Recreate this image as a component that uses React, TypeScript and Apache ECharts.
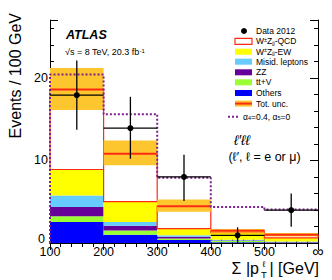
import React, { useEffect, useRef } from "react";
import * as echarts from "echarts";

// ---- data ----
const binEdges = [100, 200, 300, 400, 500, 600];
const xTickLabels = ["100", "200", "300", "400", "500", "∞"];
const yTickLabels = [0, 10, 20];
const others = [2.55, 1.0, 0.35, 0.1, 0.05];
const ttV = [0.7, 0.5, 0.2, 0.15, 0.05];
const zz = [1.1, 0.6, 0.2, 0.05, 0.02];
const misid = [1.4, 0.45, 0.2, 0.1, 0.05];
const wzEW = [3.15, 2.45, 0.8, 0.85, 0.45];
const wzQCD = [9.7, 5.8, 2.71, 0.24, 0.38];
const uncLow = [16.1, 9.4, 3.77, 1.25, 0.8];
const uncHigh = [21.2, 12.4, 5.26, 1.7, 1.2];
const data2012 = [17.9, 13.9, 8.0, 0.93, 3.97];
const dataErrLow = [13.7, 10.2, 5.1, 0, 1.96];
const dataErrHigh = [22.1, 17.7, 10.7, 1.9, 6.0];
const aqgc = [20.4, 15.6, 7.9, 4.37, 4.06];

const FONT = "'Liberation Sans', Arial, Helvetica, sans-serif";
const RED = "#ff2a12";
const BAND = "#fec62e";
const PURPLE_DOT = "#7d1f8c";

const layers = [
  { name: "Others", vals: others, fill: "#0000ff", stroke: null as string | null },
  { name: "tt+V", vals: ttV, fill: "#99ff33", stroke: null },
  { name: "ZZ", vals: zz, fill: "#660099", stroke: null },
  { name: "Misid. leptons", vals: misid, fill: "#66ccff", stroke: null },
  { name: "W±Zjj-EW", vals: wzEW, fill: "#ffff00", stroke: null },
  { name: "W±Zjj-QCD", vals: wzQCD, fill: "#ffffff", stroke: RED },
];

function rectRender(fill: string, stroke: string | null, lw: number) {
  return (params: any, api: any) => {
    const p0 = api.coord([api.value(0), api.value(3)]);
    const p1 = api.coord([api.value(1), api.value(2)]);
    return {
      type: "rect",
      shape: { x: p0[0], y: p0[1], width: p1[0] - p0[0], height: p1[1] - p0[1] },
      style: stroke ? { fill, stroke, lineWidth: lw } : { fill, lineWidth: 0 },
    };
  };
}

function buildSeries() {
  const series: any[] = [];
  const cum = binEdges.slice(0, -1).map(() => 0);
  layers.forEach((l, li) => {
    const d = l.vals.map((v, i) => {
      const b = cum[i];
      cum[i] += v;
      return [binEdges[i], binEdges[i + 1], b, cum[i]];
    });
    series.push({
      type: "custom",
      name: l.name,
      data: d,
      encode: { x: [0, 1], y: [2, 3] },
      renderItem: rectRender(l.fill, l.stroke, 1.2),
      z: 2 + li * 0.01,
      silent: true,
    });
  });
  const totals = cum.slice();
  series.push({
    type: "custom",
    name: "Tot. unc.",
    data: uncLow.map((lo, i) => [binEdges[i], binEdges[i + 1], lo, uncHigh[i]]),
    encode: { x: [0, 1], y: [2, 3] },
    renderItem: rectRender(BAND, null, 0),
    z: 3,
  });
  series.push({
    type: "custom",
    name: "total line",
    data: totals.map((t, i) => [binEdges[i], binEdges[i + 1], t]),
    encode: { x: [0, 1], y: 2 },
    renderItem: (params: any, api: any) => {
      const a = api.coord([api.value(0), api.value(2)]);
      const b = api.coord([api.value(1), api.value(2)]);
      return {
        type: "line",
        shape: { x1: a[0], y1: a[1], x2: b[0], y2: b[1] },
        style: { stroke: RED, lineWidth: 2 },
      };
    },
    z: 4,
  });
  const stepPts: number[][] = [[binEdges[0], 0]];
  aqgc.forEach((v, i) => {
    stepPts.push([binEdges[i], v]);
    stepPts.push([binEdges[i + 1], v]);
  });
  series.push({
    type: "line",
    name: "aQGC",
    data: stepPts,
    showSymbol: false,
    symbol: "none",
    lineStyle: { color: PURPLE_DOT, width: 2, type: [2, 2] },
    z: 5,
  });
  series.push({
    type: "custom",
    name: "Data 2012",
    data: data2012.map((v, i) => [binEdges[i], binEdges[i + 1], v, dataErrLow[i], dataErrHigh[i]]),
    encode: { x: [0, 1], y: [2, 3, 4] },
    renderItem: (params: any, api: any) => {
      const x0 = api.value(0), x1 = api.value(1), v = api.value(2);
      const lo = api.value(3), hi = api.value(4);
      const xc = (x0 + x1) / 2;
      const pL = api.coord([x0, v]);
      const pR = api.coord([x1, v]);
      const pT = api.coord([xc, hi]);
      const pB = api.coord([xc, lo]);
      const pM = api.coord([xc, v]);
      return {
        type: "group",
        children: [
          { type: "line", shape: { x1: pL[0], y1: pL[1], x2: pR[0], y2: pR[1] }, style: { stroke: "#000", lineWidth: 1.3 } },
          { type: "line", shape: { x1: pT[0], y1: pT[1], x2: pB[0], y2: pB[1] }, style: { stroke: "#000", lineWidth: 1.3 } },
          { type: "circle", shape: { cx: pM[0], cy: pM[1], r: 3 }, style: { fill: "#000" } },
        ],
      };
    },
    z: 10,
  });
  return series;
}

const tickLineStyle = { color: "#000", width: 1 };

function xAxisDef(position: "bottom" | "top", labels: boolean) {
  return {
    type: "value",
    position,
    min: binEdges[0],
    max: binEdges[binEdges.length - 1],
    interval: 100,
    axisLine: { show: true, lineStyle: { color: "#000", width: 1 } },
    axisTick: { show: true, inside: true, length: 7, lineStyle: tickLineStyle },
    minorTick: { show: true, splitNumber: 5, length: 4, lineStyle: tickLineStyle },
    splitLine: { show: false },
    axisLabel: labels
      ? {
          show: true,
          margin: 3,
          color: "#000",
          fontFamily: FONT,
          fontSize: 12.5,
          lineHeight: 11,
          showMinLabel: true,
          showMaxLabel: true,
          formatter: (v: number) => {
            const idx = binEdges.indexOf(v);
            const t = idx >= 0 ? xTickLabels[idx] : "";
            return t === "∞" ? "{inf|∞}" : t;
          },
          rich: { inf: { fontSize: 16, fontFamily: FONT, color: "#000", lineHeight: 11 } },
        }
      : { show: false },
  };
}

function yAxisDef(position: "left" | "right", major: boolean, labels: boolean) {
  return {
    type: "value",
    position,
    min: 0,
    max: 27,
    interval: major ? 10 : 2,
    axisLine: { show: !major, lineStyle: { color: "#000", width: 1 } },
    axisTick: { show: true, inside: true, length: major ? 8 : 4, lineStyle: tickLineStyle },
    splitLine: { show: false },
    axisLabel: labels
      ? {
          show: true,
          margin: 2,
          color: "#000",
          fontFamily: FONT,
          fontSize: 12.5,
          showMaxLabel: false,
          formatter: (v: number) => {
            if (yTickLabels.indexOf(v) < 0) return "";
            return v === 0 ? "{zero|0}" : String(v);
          },
          rich: { zero: { fontSize: 12.5, fontFamily: FONT, color: "#000", padding: [0, 3, 8, 0] } },
        }
      : { show: false },
  };
}

const legendRows = [
  { y: 31, kind: "dot", text: "Data 2012" },
  { y: 41.3, kind: "hollow", text: "W{sup|±}Z{sub|jj}-QCD" },
  { y: 51.7, kind: "fill", color: "#ffff00", text: "W{sup|±}Z{sub|jj}-EW" },
  { y: 61.7, kind: "fill", color: "#66ccff", text: "Misid. leptons" },
  { y: 72.3, kind: "fill", color: "#660099", text: "ZZ" },
  { y: 82.3, kind: "fill", color: "#99ff33", text: "tt+V" },
  { y: 93, kind: "fill", color: "#0000ff", text: "Others" },
  { y: 103.6, kind: "unc", text: "Tot. unc." },
];

const richSmall = {
  sup: { fontSize: 5.5, fontFamily: FONT, fill: "#000", verticalAlign: "top", lineHeight: 4 },
  sub: { fontSize: 5.5, fontFamily: FONT, fill: "#000", verticalAlign: "bottom", lineHeight: 4 },
};

function buildGraphics() {
  const g: any[] = [];
  const bx = 235, bw = 17, bh = 6, tx = 256;
  legendRows.forEach((r: any) => {
    if (r.kind === "dot") {
      g.push({ type: "circle", shape: { cx: 244, cy: r.y, r: 3 }, style: { fill: "#000" } });
    } else if (r.kind === "hollow") {
      g.push({ type: "rect", shape: { x: bx, y: r.y - bh / 2, width: bw, height: bh }, style: { fill: "#fff", stroke: RED, lineWidth: 1.2 } });
    } else if (r.kind === "fill") {
      g.push({ type: "rect", shape: { x: bx, y: r.y - bh / 2, width: bw, height: bh }, style: { fill: r.color } });
    } else if (r.kind === "unc") {
      g.push({ type: "rect", shape: { x: bx, y: r.y - bh / 2, width: bw, height: bh }, style: { fill: BAND } });
      g.push({ type: "line", shape: { x1: bx, y1: r.y, x2: bx + bw, y2: r.y }, style: { stroke: RED, lineWidth: 2 } });
    }
    g.push({
      type: "text",
      style: {
        x: tx,
        y: r.y,
        text: r.text,
        fontFamily: FONT,
        fontSize: 8.5,
        fill: "#000",
        verticalAlign: "middle",
        align: "left",
        rich: richSmall,
      },
    });
  });
  // aQGC legend
  g.push({ type: "line", shape: { x1: 228, y1: 116.7, x2: 240, y2: 116.7 }, style: { stroke: PURPLE_DOT, lineWidth: 2, lineDash: [2, 2] } });
  g.push({
    type: "text",
    style: {
      x: 243,
      y: 116.7,
      text: "α{sub|4}=0.4, α{sub|5}=0",
      fontFamily: FONT,
      fontSize: 8.5,
      fill: "#000",
      verticalAlign: "middle",
      align: "left",
      rich: richSmall,
    },
  });
  // ATLAS label
  g.push({
    type: "text",
    style: { x: 66, y: 35, text: "ATLAS", fontFamily: FONT, fontSize: 12.5, fontWeight: "bold", fontStyle: "italic", fill: "#000", verticalAlign: "middle", align: "left" },
  });
  g.push({
    type: "text",
    style: {
      x: 65,
      y: 52,
      text: "√s = 8 TeV, 20.3 fb{sup|-1}",
      fontFamily: FONT,
      fontSize: 9,
      fill: "#000",
      verticalAlign: "middle",
      align: "left",
      rich: { sup: { fontSize: 6, fontFamily: FONT, fill: "#000", verticalAlign: "top", lineHeight: 5 } },
    },
  });
  // channel labels
  g.push({
    type: "text",
    style: { x: 242, y: 140, text: "ℓ′ℓℓ", fontFamily: FONT, fontSize: 14, fontStyle: "italic", fill: "#000", verticalAlign: "middle", align: "center" },
  });
  g.push({
    type: "text",
    style: { x: 264.5, y: 157, text: "(ℓ′, ℓ = e or μ)", fontFamily: FONT, fontSize: 12.5, fill: "#000", verticalAlign: "middle", align: "center" },
  });
  // y title
  g.push({
    type: "text",
    x: 15,
    y: 13,
    rotation: Math.PI / 2,
    style: { x: 0, y: 0, text: "Events / 100 GeV", fontFamily: FONT, fontSize: 16, fill: "#000", align: "right", verticalAlign: "middle" },
  });
  // x title
  g.push({
    type: "text",
    style: { x: 319, y: 268.5, text: "| [GeV]", fontFamily: FONT, fontSize: 16, fill: "#000", align: "right", verticalAlign: "middle" },
  });
  g.push({
    type: "text",
    style: { x: 259, y: 268.5, text: "Σ |p", fontFamily: FONT, fontSize: 16, fill: "#000", align: "right", verticalAlign: "middle" },
  });
  g.push({
    type: "text",
    style: { x: 264, y: 263.5, text: "ℓ", fontFamily: FONT, fontSize: 8.5, lineHeight: 6, fill: "#000", align: "center", verticalAlign: "middle" },
  });
  g.push({
    type: "text",
    style: { x: 264, y: 274.5, text: "T", fontFamily: FONT, fontSize: 9.5, fill: "#000", align: "center", verticalAlign: "middle" },
  });
  return g;
}

const option: any = {
  animation: false,
  backgroundColor: "#ffffff",
  textStyle: { fontFamily: FONT },
  grid: { left: 50, right: 14, top: 20, bottom: 37, containLabel: false },
  xAxis: [xAxisDef("bottom", true), xAxisDef("top", false)],
  yAxis: [
    yAxisDef("left", false, true),
    yAxisDef("left", true, false),
    yAxisDef("right", false, false),
    yAxisDef("right", true, false),
  ],
  series: buildSeries(),
  graphic: buildGraphics(),
};

export default function App() {
  const ref = useRef<HTMLDivElement>(null);
  useEffect(() => {
    document.body.style.margin = "0";
    const chart = echarts.init(ref.current!, null, { renderer: "svg" });
    chart.setOption(option);
    return () => chart.dispose();
  }, []);
  return <div ref={ref} style={{ width: 332, height: 280 }} />;
}
